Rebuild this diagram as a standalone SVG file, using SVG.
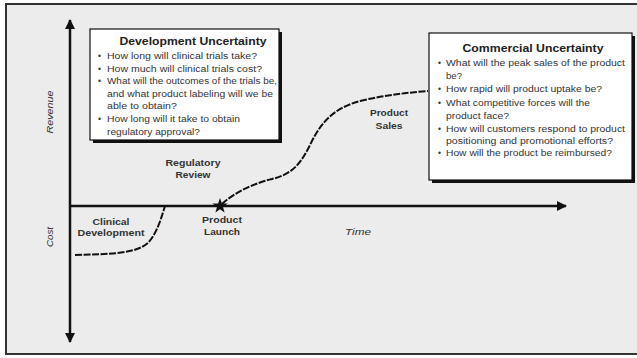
<svg xmlns="http://www.w3.org/2000/svg" width="637" height="358" viewBox="0 0 637 358">
<defs>
<style>
text{font-family:"Liberation Sans",Arial,sans-serif}
.lbl{font-size:8.5px;font-weight:bold;fill:#333;text-anchor:middle}
.ttl{font-size:10.5px;font-weight:bold;fill:#222;text-anchor:middle}
.bul{font-size:8.5px;fill:#333}
.ax{font-size:8.5px;font-style:italic;fill:#333;text-anchor:middle}
.axis{stroke:#111;stroke-width:2.5;fill:none}
.curve{stroke:#111;stroke-width:2;fill:none;stroke-dasharray:7 1.5}
.box{fill:#fff;stroke:#111;stroke-width:1.2}
</style>
<marker id="ah" viewBox="0 0 10 10" refX="9" refY="5" markerWidth="4" markerHeight="4" orient="auto-start-reverse">
<path d="M0,0 L10,5 L0,10 Z" fill="#111"/>
</marker>
</defs>
<rect x="0" y="0" width="637" height="358" fill="#fff"/>
<rect x="6" y="4" width="640" height="350" fill="#ececec" stroke="#333" stroke-width="2"/>
<g id="connectors">
<line class="axis" x1="70" y1="342" x2="70" y2="20" marker-start="url(#ah)" marker-end="url(#ah)"/>
<line class="axis" x1="69" y1="206" x2="566" y2="206" marker-end="url(#ah)"/>
<path class="curve" d="M75,255 C110,254 135,254 148,243 C158,232 162,215 165,206"/>
<path class="curve" d="M222,204 C235,192 255,183 272,179 C292,174 300,165 310,145 C322,120 335,108 360,101 C385,95 405,93 428,91"/>
</g>
<g id="star">
<polygon points="220,198 221.9,203.4 227.6,203.5 223,207 224.6,212.4 220,209.2 215.4,212.4 217,207 212.4,203.5 218.1,203.4" fill="#111"/>
</g>
<g id="dev-box">
<rect x="93" y="32" width="189" height="111" fill="#111"/>
<rect class="box" x="90" y="29" width="189" height="111"/>
<text class="ttl" x="193" y="45" textLength="147" lengthAdjust="spacingAndGlyphs">Development Uncertainty</text>
<g class="bul">
<text x="98" y="59">•</text><text x="107" y="59" textLength="150" lengthAdjust="spacingAndGlyphs">How long will clinical trials take?</text>
<text x="98" y="72">•</text><text x="107" y="72" textLength="155" lengthAdjust="spacingAndGlyphs">How much will clinical trials cost?</text>
<text x="98" y="84">•</text><text x="107" y="84" textLength="170" lengthAdjust="spacingAndGlyphs">What will the outcomes of the trials be,</text>
<text x="107" y="97" textLength="166" lengthAdjust="spacingAndGlyphs">and what product labeling will we be</text>
<text x="107" y="109" textLength="70" lengthAdjust="spacingAndGlyphs">able to obtain?</text>
<text x="98" y="122">•</text><text x="107" y="122" textLength="133" lengthAdjust="spacingAndGlyphs">How long will it take to obtain</text>
<text x="107" y="135" textLength="93" lengthAdjust="spacingAndGlyphs">regulatory approval?</text>
</g>
</g>
<g id="com-box">
<rect x="432" y="36" width="203" height="147" fill="#111"/>
<rect class="box" x="429" y="33" width="203" height="147"/>
<text class="ttl" x="533" y="52" textLength="141" lengthAdjust="spacingAndGlyphs">Commercial Uncertainty</text>
<g class="bul">
<text x="438" y="66">•</text><text x="446" y="66" textLength="179" lengthAdjust="spacingAndGlyphs">What will the peak sales of the product</text>
<text x="446" y="79" textLength="16" lengthAdjust="spacingAndGlyphs">be?</text>
<text x="438" y="92">•</text><text x="446" y="92" textLength="156" lengthAdjust="spacingAndGlyphs">How rapid will product uptake be?</text>
<text x="438" y="106">•</text><text x="446" y="106" textLength="144" lengthAdjust="spacingAndGlyphs">What competitive forces will the</text>
<text x="446" y="119" textLength="63" lengthAdjust="spacingAndGlyphs">product face?</text>
<text x="438" y="132">•</text><text x="446" y="132" textLength="179" lengthAdjust="spacingAndGlyphs">How will customers respond to product</text>
<text x="446" y="144" textLength="167" lengthAdjust="spacingAndGlyphs">positioning and promotional efforts?</text>
<text x="438" y="156">•</text><text x="446" y="156" textLength="166" lengthAdjust="spacingAndGlyphs">How will the product be reimbursed?</text>
</g>
</g>
<g id="regulatory-review">
<text class="lbl" x="193" y="166" textLength="55" lengthAdjust="spacingAndGlyphs">Regulatory</text>
<text class="lbl" x="193" y="178" textLength="35" lengthAdjust="spacingAndGlyphs">Review</text>
</g>
<g id="product-sales">
<text class="lbl" x="389" y="116" textLength="38" lengthAdjust="spacingAndGlyphs">Product</text>
<text class="lbl" x="389" y="129" textLength="27" lengthAdjust="spacingAndGlyphs">Sales</text>
</g>
<g id="clinical-development">
<text class="lbl" x="111" y="225" textLength="37" lengthAdjust="spacingAndGlyphs">Clinical</text>
<text class="lbl" x="111" y="236" textLength="67" lengthAdjust="spacingAndGlyphs">Development</text>
</g>
<g id="product-launch">
<text class="lbl" x="222" y="223" textLength="40" lengthAdjust="spacingAndGlyphs">Product</text>
<text class="lbl" x="222" y="235" textLength="36" lengthAdjust="spacingAndGlyphs">Launch</text>
</g>
<g id="time"><text class="ax" x="358" y="235" textLength="26" lengthAdjust="spacingAndGlyphs">Time</text></g>
<g id="revenue"><text class="ax" transform="translate(53,112) rotate(-90)" textLength="43" lengthAdjust="spacingAndGlyphs">Revenue</text></g>
<g id="cost"><text class="ax" transform="translate(53,237) rotate(-90)" textLength="20" lengthAdjust="spacingAndGlyphs">Cost</text></g>
</svg>
